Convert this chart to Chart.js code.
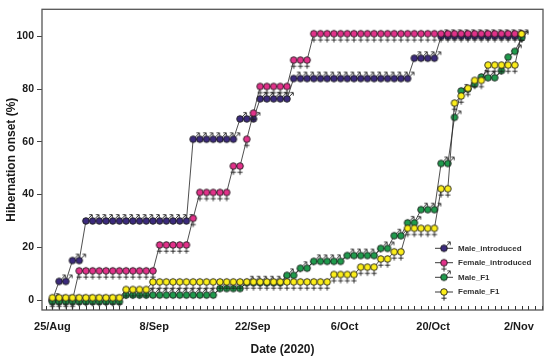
<!DOCTYPE html>
<html><head><meta charset="utf-8">
<script src="https://cdn.jsdelivr.net/npm/chart.js@4.4.0/dist/chart.umd.min.js"></script>
<style>html,body{margin:0;padding:0;background:#fff}</style>
</head><body>
<canvas id="c" width="550" height="360"></canvas>
<script>
// ---- data (one value per day, day 0 = 25/Aug) ----
const seriesNames = ['Male_introduced','Female_introduced','Male_F1','Female_F1'];
const maleIntroduced = [0,7.1,7.1,15,15,
 30,30,30,30,30,30,30,30,30,30,30,30,30,30,30,30,
 61,61,61,61,61,61,61,
 68.7,68.7,68.7,
 76.3,76.3,76.3,76.3,76.3,
 84,84,84,84,84,84,84,84,84,84,84,84,84,84,84,84,84,84,
 91.7,91.7,91.7,91.7,
 100,100,100,100,100,100,100,100,100,100,100,100,100];
const femaleIntroduced = [0,0,0,0,
 11.1,11.1,11.1,11.1,11.1,11.1,11.1,11.1,11.1,11.1,11.1,11.1,
 20.9,20.9,20.9,20.9,20.9,
 31,
 40.8,40.8,40.8,40.8,40.8,
 50.8,50.8,
 61,
 70.9,
 81,81,81,81,81,
 91,91,91,
 101,101,101,101,101,101,101,101,101,101,101,101,101,101,101,101,
 101,101,101,101,101,101,101,101,101,101,101,101,101,101,101,101];
const maleF1 = [-0.6,-0.6,-0.6,-0.6,-0.6,-0.6,-0.6,-0.6,-0.6,-0.6,-0.6,
 1.9,1.9,1.9,1.9,1.9,1.9,1.9,1.9,1.9,1.9,1.9,1.9,1.9,1.9,
 4.4,4.4,4.4,4.4,
 6.6,6.6,6.6,6.6,6.6,6.6,
 9.4,9.4,
 12.1,12.1,
 14.7,14.7,14.7,14.7,14.7,
 16.9,16.9,16.9,16.9,16.9,
 19.6,19.6,
 24.4,24.4,
 29.3,29.3,
 34.3,34.3,34.3,
 51.8,51.8,
 69.3,79.3,80,81.8,84.6,84.3,84.3,87,92.1,94.3,99.4];
const femaleF1 = [0.9,0.9,0.9,0.9,0.9,0.9,0.9,0.9,0.9,0.9,0.9,
 4.0,4.0,4.0,4.0,
 6.9,6.9,6.9,6.9,6.9,6.9,6.9,6.9,6.9,6.9,6.9,6.9,6.9,6.9,6.9,6.9,6.9,6.9,6.9,6.9,6.9,6.9,6.9,6.9,6.9,6.9,6.9,
 9.7,9.7,9.7,9.7,
 12.5,12.5,12.5,
 15.6,15.6,
 18.3,18.3,
 27.2,27.2,27.2,27.2,27.2,
 42.2,42.2,
 74.7,77.4,80.3,83.3,83.3,
 89.1,89.1,89.1,89.1,89.1,
 100.9];
const tickLabels = ['25/Aug','8/Sep','22/Sep','6/Oct','20/Oct','2/Nov'];
const labelDays = [0, 15.2, 29.9, 43.6, 56.8, 69.6];
const yTicks = [0,20,40,60,80,100];

// ---- styles ----
const F = "'Liberation Sans', Arial, sans-serif";
const colors = ['#3b2a7c','#e2318a','#1f9a4c','#fcee1a'];
const isMale = [true,false,true,false];

function makeMarker(fill, male){
  const c = document.createElement('canvas'); c.width = 24; c.height = 24;
  const g = c.getContext('2d'); const cx = 12, cy = 12, r = 3.3;
  g.strokeStyle = '#1b1b1b'; g.lineWidth = 0.9;
  if (male) {
    g.beginPath(); g.moveTo(cx+2.2, cy-2.2); g.lineTo(cx+6, cy-6); g.stroke();
    g.beginPath(); g.moveTo(cx+3.3, cy-6.3); g.lineTo(cx+6.3, cy-6.3); g.lineTo(cx+6.3, cy-3.3); g.stroke();
  } else {
    g.beginPath(); g.moveTo(cx, cy+r); g.lineTo(cx, cy+8.7);
    g.moveTo(cx-2.6, cy+6.2); g.lineTo(cx+2.6, cy+6.2); g.stroke();
  }
  g.beginPath(); g.arc(cx, cy, r, 0, Math.PI*2); g.fillStyle = fill; g.fill(); g.stroke();
  return c;
}
const markers = colors.map((c,i)=>makeMarker(c, isMale[i]));
const allSeries = [maleIntroduced, femaleIntroduced, maleF1, femaleF1];

const datasets = allSeries.map((arr,i)=>({
  label: seriesNames[i],
  data: arr.map((v,d)=>({x:d, y:v})),
  borderColor: '#222', borderWidth: 0.8, tension: 0,
  pointStyle: markers[i], pointRadius: 4, pointHoverRadius: 4,
  order: 4 - i
}));

const decor = {
  id: 'decor',
  afterDraw(chart){
    const ctx = chart.ctx, a = chart.chartArea, xs = chart.scales.x;
    ctx.save();
    // minor day ticks (inside, bottom)
    ctx.strokeStyle = '#333'; ctx.lineWidth = 1;
    for (let d = Math.ceil(xs.min); d <= Math.floor(xs.max); d++) {
      const px = Math.round(xs.getPixelForValue(d)) + 0.5;
      ctx.beginPath(); ctx.moveTo(px, a.bottom); ctx.lineTo(px, a.bottom - 4); ctx.stroke();
    }
    // frame
    ctx.strokeStyle = '#555'; ctx.lineWidth = 1.3;
    ctx.strokeRect(a.left, a.top, a.right - a.left, a.bottom - a.top);
    // x title
    ctx.fillStyle = '#1a1a1a'; ctx.font = 'bold 12px ' + F;
    ctx.textAlign = 'center'; ctx.textBaseline = 'middle';
    ctx.fillText('Date (2020)', 282.5, 350);
    // legend
    ctx.font = 'bold 8px ' + F; ctx.textAlign = 'left';
    const rows = [248.3, 262.7, 277.3, 292];
    seriesNames.forEach((n,i)=>{
      const y = rows[i];
      ctx.strokeStyle = '#222'; ctx.lineWidth = 0.9;
      ctx.beginPath(); ctx.moveTo(435, y); ctx.lineTo(453, y); ctx.stroke();
      ctx.drawImage(markers[i], 444 - 12, y - 12);
      ctx.fillStyle = '#333';
      ctx.fillText(n, 458, y);
    });
    ctx.restore();
  }
};

new Chart(document.getElementById('c'), {
  type: 'line',
  data: { datasets },
  options: {
    responsive: false, animation: false,
    layout: { padding: { top: 6, right: 7, left: 0, bottom: 0 } },
    plugins: { legend: { display: false }, tooltip: { enabled: false } },
    scales: {
      x: {
        type: 'linear', min: -1.55, max: 73.2,
        grid: { display: false, drawTicks: false }, border: { display: false },
        afterBuildTicks: s => { s.ticks = labelDays.map(v => ({ value: v })); },
        ticks: { autoSkip: false, maxRotation: 0, padding: 10, color: '#1a1a1a',
          font: { family: F, size: 11, weight: 'bold' }, callback: (v, i) => tickLabels[i] },
        afterFit: s => { s.height = 50; }
      },
      y: {
        min: -3.75, max: 110.25,
        afterBuildTicks: s => { s.ticks = yTicks.map(v => ({ value: v })); },
        grid: { drawOnChartArea: false, drawTicks: true, tickLength: 5, color: '#444', lineWidth: 1 },
        border: { display: false },
        ticks: { padding: 3, color: '#1a1a1a', font: { family: F, size: 10.5, weight: 'bold' } },
        title: { display: true, text: 'Hibernation onset (%)', color: '#1a1a1a',
          font: { family: F, size: 12, weight: 'bold' }, padding: { top: 4, bottom: 0 } },
        afterFit: s => { s.width = 42; }
      }
    }
  },
  plugins: [decor]
});
</script>
</body></html>
